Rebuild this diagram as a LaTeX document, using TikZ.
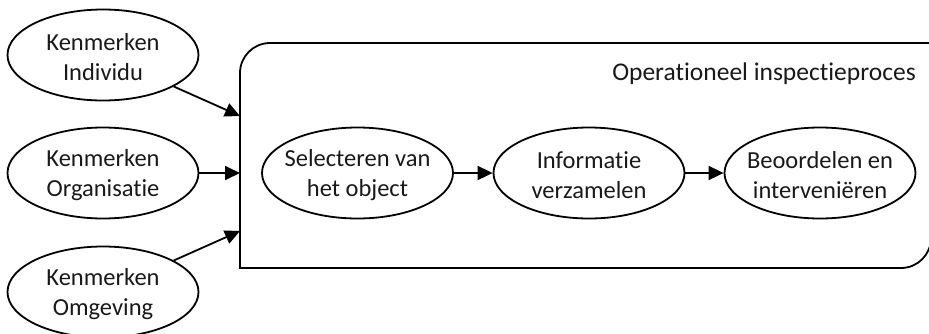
\documentclass[tikz,border=0pt]{standalone}
\usepackage{fontspec}
\setmainfont[Ligatures={NoCommon}]{Carlito}
\usetikzlibrary{shapes.geometric,arrows.meta}
\tikzset{
  oval/.style={ellipse,draw,line width=1.8pt,minimum width=191pt,minimum height=91pt,inner sep=0pt},
  lbl/.style={align=center,font=\fontsize{24.5}{30}\selectfont,text=black!90,inner sep=0pt,yshift=-2pt},
  conn/.style={line width=1.8pt,-{Triangle[length=15pt,width=14pt]}},
  frame/.style={line width=1.8pt}
}
\begin{document}
\begin{tikzpicture}[x=1pt,y=-1pt]
\useasboundingbox (0,0) rectangle (929,333);
\clip (0,0) rectangle (929,333);
% process frame
\draw[frame] (240,268) -- (240,73) .. controls (240,56.43) and (253.43,43) .. (270,43) -- (931,43) -- (931,238) .. controls (931,254.57) and (917.57,268) .. (901,268) -- cycle;
\node[font=\fontsize{25.5}{30}\selectfont,text=black!90] (title) at (764,74) {Operationeel inspectieproces};
\coordinate (inA) at (240,116);
\coordinate (inB) at (240,173);
\coordinate (inC) at (240,231);
% input ellipses
\node[oval,label={[lbl]center:Kenmerken\\Individu}] (ind) at (103,55) {};
\node[oval,label={[lbl]center:Kenmerken\\Organisatie}] (org) at (103,173) {};
\node[oval,label={[lbl]center:Kenmerken\\Omgeving}] (omg) at (103,292) {};
% process ellipses
\node[oval,label={[lbl]center:Selecteren van\\het object}] (sel) at (357.5,173) {};
\node[oval,label={[lbl]center:Informatie\\verzamelen}] (inf) at (589,173) {};
\node[oval,label={[lbl]center:Beoordelen en\\interveniëren}] (beo) at (820,173) {};
% connectors
\draw[conn] (ind) -- (inA);
\draw[conn] (org) -- (inB);
\draw[conn] (omg) -- (inC);
\draw[conn] (sel) -- (inf);
\draw[conn] (inf) -- (beo);
\end{tikzpicture}
\end{document}
